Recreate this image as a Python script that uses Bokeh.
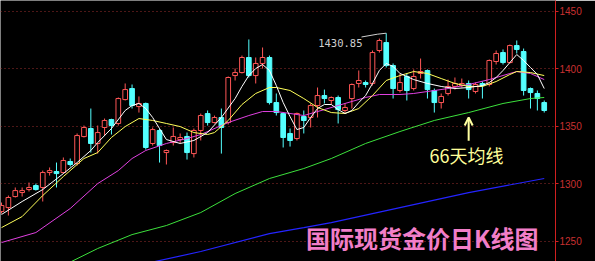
import numpy as np
from bokeh.plotting import figure
from bokeh.models import Range1d, FixedTicker, Label, Arrow, OpenHead, ColumnDataSource
from bokeh.embed import file_html
from bokeh.resources import INLINE

# Daily gold spot prices (USD/oz): open, close, high, low
opens = [1275.7, 1279.1, 1288.7, 1292.2, 1294.8, 1298.3, 1296.6, 1309.6, 1310.5, 1309.6,
         1319.2, 1317.4, 1340.9, 1347.9, 1334.9, 1348.8, 1355.7, 1352.3, 1373.1, 1382.7,
         1367.0, 1369.7, 1334.9, 1346.2, 1327.0, 1335.7, 1338.3, 1341.0, 1326.1, 1346.2,
         1360.9, 1353.1, 1357.5, 1353.1, 1394.0, 1396.6, 1409.7, 1394.0, 1404.5, 1409.7,
         1370.5, 1360.9, 1343.6, 1339.2, 1358.3, 1357.5, 1367.9, 1376.6, 1372.3, 1374.9,
         1363.6, 1374.0, 1387.1, 1387.9, 1387.1, 1415.8, 1422.7, 1402.7, 1381.0, 1393.2,
         1382.7, 1395.8, 1398.4, 1381.0, 1370.5, 1378.4, 1384.5, 1385.3, 1387.1, 1380.1,
         1387.1, 1386.2, 1406.2, 1414.0, 1405.3, 1420.1, 1414.9, 1382.7, 1378.4, 1370.5]
closes = [1280.9, 1287.9, 1293.9, 1293.9, 1296.6, 1294.8, 1309.6, 1311.3, 1308.7, 1320.1,
          1316.6, 1341.8, 1348.8, 1334.9, 1344.4, 1354.9, 1350.5, 1374.0, 1381.8, 1367.9,
          1369.7, 1331.4, 1347.0, 1333.1, 1328.8, 1341.0, 1340.1, 1327.0, 1346.2, 1359.2,
          1353.1, 1357.5, 1348.8, 1392.3, 1396.6, 1409.7, 1394.0, 1404.5, 1409.7, 1370.5,
          1361.8, 1340.1, 1337.5, 1361.0, 1354.9, 1367.9, 1376.6, 1374.0, 1374.9, 1364.4,
          1366.2, 1386.2, 1389.7, 1386.2, 1414.0, 1424.5, 1402.7, 1382.7, 1387.9, 1381.0,
          1393.2, 1397.5, 1381.8, 1370.5, 1375.8, 1384.5, 1387.1, 1387.1, 1381.8, 1386.2,
          1385.3, 1407.1, 1413.2, 1405.3, 1420.1, 1416.7, 1381.0, 1379.2, 1374.0, 1363.6]
highs = [1283.5, 1289.6, 1296.6, 1296.6, 1300.9, 1300.0, 1311.3, 1314.0, 1318.3, 1322.7,
         1321.8, 1343.6, 1350.5, 1365.3, 1350.5, 1356.6, 1356.4, 1374.9, 1387.1, 1386.2,
         1375.8, 1370.5, 1348.8, 1347.9, 1329.6, 1348.8, 1343.6, 1344.4, 1347.9, 1360.9,
         1363.6, 1359.2, 1365.3, 1393.2, 1400.1, 1411.4, 1425.4, 1409.7, 1418.4, 1411.4,
         1378.4, 1361.8, 1347.9, 1361.8, 1363.6, 1369.7, 1383.6, 1381.8, 1375.8, 1376.6,
         1369.7, 1387.1, 1398.4, 1389.7, 1415.8, 1426.2, 1430.85, 1404.5, 1395.8, 1395.8,
         1399.3, 1408.8, 1399.3, 1382.7, 1378.4, 1390.5, 1392.3, 1391.4, 1389.7, 1387.9,
         1388.8, 1408.0, 1415.8, 1416.7, 1421.0, 1424.5, 1417.5, 1383.6, 1381.0, 1372.3]
lows = [1273.9, 1272.2, 1287.9, 1288.7, 1293.1, 1293.9, 1284.4, 1307.0, 1296.6, 1308.7,
        1314.8, 1315.7, 1340.1, 1327.0, 1326.1, 1341.8, 1342.7, 1350.5, 1372.3, 1365.3,
        1361.8, 1329.6, 1333.1, 1318.3, 1316.6, 1333.1, 1334.9, 1320.9, 1322.7, 1337.5,
        1350.5, 1352.3, 1326.1, 1351.4, 1389.7, 1395.8, 1392.3, 1387.1, 1400.1, 1368.8,
        1359.2, 1331.4, 1332.2, 1337.5, 1343.6, 1348.8, 1357.5, 1369.7, 1368.8, 1352.3,
        1361.0, 1365.3, 1383.6, 1383.6, 1385.3, 1414.0, 1401.0, 1374.0, 1379.2, 1372.3,
        1381.0, 1391.4, 1374.0, 1361.8, 1365.3, 1376.6, 1381.8, 1383.6, 1374.0, 1378.4,
        1374.0, 1384.5, 1403.6, 1403.6, 1404.5, 1413.2, 1376.6, 1365.3, 1363.6, 1361.8]

# Moving averages (day index, value)
ma5_days = [0, 3, 6, 9, 11, 13, 14, 16, 18, 19, 20, 21, 22, 23, 24, 26, 28, 30, 32, 34,
            35, 36, 37, 38, 39, 40, 41, 42, 43, 44, 45, 46, 47, 48, 49, 50, 51, 52, 53, 54,
            55, 56, 57, 58, 59, 60, 62, 64, 66, 68, 70, 71, 72, 73, 74, 75, 76, 77, 78, 79]
ma5_vals = [1273.1, 1284.4, 1294.8, 1308.7, 1318.3, 1328.8, 1335.7, 1347.9, 1363.6, 1367.9,
            1369.7, 1365.3, 1357.5, 1347.9, 1338.3, 1334.9, 1337.5, 1344.4, 1357.5, 1374.0,
            1384.5, 1394.0, 1400.1, 1403.6, 1398.4, 1385.3, 1370.5, 1358.3, 1347.0, 1348.8,
            1357.5, 1365.3, 1368.8, 1368.8, 1364.4, 1361.0, 1363.6, 1370.5, 1376.6, 1387.1,
            1398.4, 1404.5, 1401.9, 1395.8, 1393.2, 1390.5, 1387.1, 1384.5, 1382.7, 1383.6,
            1385.3, 1387.9, 1392.3, 1398.4, 1405.3, 1412.3, 1407.1, 1401.0, 1394.9, 1382.7]
ma10_days = [0, 3, 6, 9, 12, 14, 16, 18, 20, 22, 24, 26, 28, 30, 31, 33, 35, 37, 39, 40,
             42, 44, 46, 48, 50, 52, 54, 56, 58, 60, 62, 64, 66, 68, 70, 72, 74, 75, 77, 79]
ma10_vals = [1261.7, 1271.3, 1289.6, 1306.1, 1321.8, 1327.0, 1340.1, 1349.6, 1356.6, 1354.9,
             1352.3, 1349.6, 1344.4, 1342.7, 1344.4, 1354.9, 1368.8, 1378.4, 1383.6, 1383.6,
             1381.0, 1374.0, 1366.2, 1361.8, 1361.0, 1365.3, 1376.6, 1389.7, 1394.0, 1397.5,
             1395.8, 1391.4, 1387.1, 1384.5, 1384.5, 1388.8, 1394.9, 1397.5, 1396.6, 1394.0]
ma20_days = [0, 5, 10, 14, 17, 19, 21, 24, 27, 29, 33, 36, 38, 40, 42, 44, 47, 50, 53, 55,
             58, 60, 65, 68, 71, 74, 75, 77, 79]
ma20_vals = [1248.7, 1257.4, 1278.3, 1300.0, 1311.3, 1321.8, 1328.8, 1334.9, 1339.2, 1342.7,
             1353.1, 1359.2, 1362.7, 1362.7, 1361.0, 1359.2, 1364.4, 1369.7, 1374.9, 1377.5,
             1377.5, 1378.4, 1382.7, 1386.2, 1390.5, 1395.8, 1397.5, 1395.8, 1390.5]
ma66_days = [10, 14, 19, 24, 29, 34, 39, 44, 48, 53, 58, 63, 68, 73, 77, 79]
ma66_vals = [1231.7, 1243.5, 1255.6, 1263.5, 1274.8, 1291.3, 1304.4, 1313.1, 1321.8, 1334.9,
             1345.3, 1354.9, 1361.8, 1369.7, 1374.0, 1374.9]
ma120_days = [21, 29, 39, 44, 48, 58, 68, 79]
ma120_vals = [1230.4, 1240.9, 1256.5, 1261.7, 1266.1, 1279.1, 1292.2, 1304.4]

price_ticks = [1250, 1300, 1350, 1400, 1450]
title_text = "国际现货金价日K线图"
ma66_text = "66天均线"
ma66_mark_day = 68

UP = "#ff5656"
DOWN = "#54ffff"

o = np.array(opens); c = np.array(closes)
up = c >= o
days = np.arange(len(opens))
src = ColumnDataSource(dict(
    day=days,
    high=highs, low=lows,
    top=np.maximum(o, c), bottom=np.minimum(o, c),
    color=[UP if u else DOWN for u in up],
    fill=["#000000" if u else DOWN for u in up],
))

p = figure(width=595, height=261, output_backend="svg", toolbar_location=None,
           x_axis_location=None, y_axis_location="right",
           x_range=Range1d(-0.15, 80.64), y_range=Range1d(1232.2, 1459.3),
           min_border_left=0, min_border_top=0, min_border_bottom=0, min_border_right=40,
           background_fill_color="#000000", border_fill_color="#000000",
           outline_line_color=None)

p.xgrid.visible = False
p.ygrid.grid_line_color = "#9a2e2e"
p.ygrid.grid_line_dash = "1 3"
p.ygrid.grid_line_width = 1

ax = p.yaxis[0]
ax.ticker = FixedTicker(ticks=price_ticks)
ax.axis_line_color = "#d02020"
ax.major_tick_line_color = "#d02020"
ax.major_tick_out = 3
ax.major_tick_in = 0
ax.minor_tick_out = 0
ax.minor_tick_in = 0
ax.major_label_standoff = 1
ax.major_label_text_color = "#c83030"
ax.major_label_text_font = "Liberation Sans"
ax.major_label_text_font_size = "10px"

# candles: wick first, body on top (hollow red for up days)
p.segment(x0="day", y0="low", x1="day", y1="high", line_color="color", line_width=1, source=src)
p.vbar(x="day", width=0.68, top="top", bottom="bottom", fill_color="fill",
       line_color="color", line_width=1, source=src)

# moving averages
p.line(ma120_days, ma120_vals, line_color="#2424ff", line_width=1.2)
p.line(ma66_days, ma66_vals, line_color="#3ce03c", line_width=1)
p.line(ma20_days, ma20_vals, line_color="#e040e0", line_width=1)
p.line(ma10_days, ma10_vals, line_color="#ffff5a", line_width=1)
p.line(ma5_days, ma5_vals, line_color="#ffffff", line_width=1)

# highest high with leader line
imax = int(np.argmax(highs))
hmax = highs[imax]
p.line([imax, imax - 1.3, imax - 3.6], [hmax, hmax - 0.9, hmax - 3.3],
       line_color="#d0d0d0", line_width=1)
p.add_layout(Label(x=imax - 9.9, y=hmax - 8.6, text=f"{hmax:.2f}",
                   text_color="#d0d0d0", text_font="DejaVu Sans Mono",
                   text_font_size="10.5px", text_baseline="middle", text_align="left"))

# arrow pointing at the 66-day average
ma66_at = ma66_vals[ma66_days.index(ma66_mark_day)]
p.add_layout(Arrow(end=OpenHead(size=8, line_color="#ffffa0", line_width=2),
                   x_start=ma66_mark_day, y_start=ma66_at - 24.5,
                   x_end=ma66_mark_day, y_end=ma66_at - 4.3,
                   line_color="#ffffa0", line_width=2))
p.add_layout(Label(x=ma66_mark_day - 0.3, y=ma66_at - 25.5, text=ma66_text,
                   text_color="#ffff99", text_font="Noto Sans CJK SC",
                   text_font_size="18px", text_align="center", text_baseline="top"))

p.add_layout(Label(x=538, y=7, x_units="screen", y_units="screen", text=title_text,
                   text_color="#f27ec8", text_font="Noto Sans CJK SC",
                   text_font_style="bold", text_font_size="24px",
                   text_align="right", text_baseline="bottom"))

open("out.html", "w").write(file_html(p, INLINE))
